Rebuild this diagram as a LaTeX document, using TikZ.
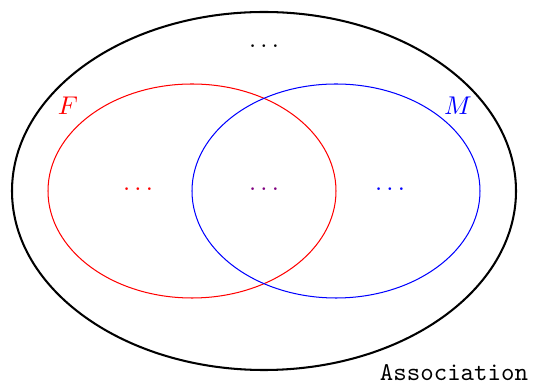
\documentclass[tikz,border=0pt]{standalone}
\usepackage{xcolor}
\begin{document}
\begin{tikzpicture}[x=0.39pt,y=-0.39pt,
  outerset/.style={draw=black,line width=0.8pt},
  fset/.style={draw=red,line width=0.4pt},
  mset/.style={draw=blue,line width=0.4pt}]
\useasboundingbox (0,0) rectangle (543,383);
\draw[outerset] (264,191) ellipse [x radius=252*0.39pt, y radius=179*0.39pt];
\draw[fset] (192,191) ellipse [x radius=144*0.39pt, y radius=107*0.39pt];
\draw[mset] (336,191) ellipse [x radius=144*0.39pt, y radius=107*0.39pt];
\node (dtop) at (264,46) {$\dots$};
\node[text=red] (dF) at (138,189) {$\dots$};
\node[text=red!50!blue] (dFM) at (264,189) {$\dots$};
\node[text=blue] (dM) at (390,189) {$\dots$};
\node[text=red] (lF) at (68,106) {$F$};
\node[text=blue] (lM) at (458,106) {$M$};
\node (assoc) at (454,373) {\texttt{Association}};
\end{tikzpicture}
\end{document}
